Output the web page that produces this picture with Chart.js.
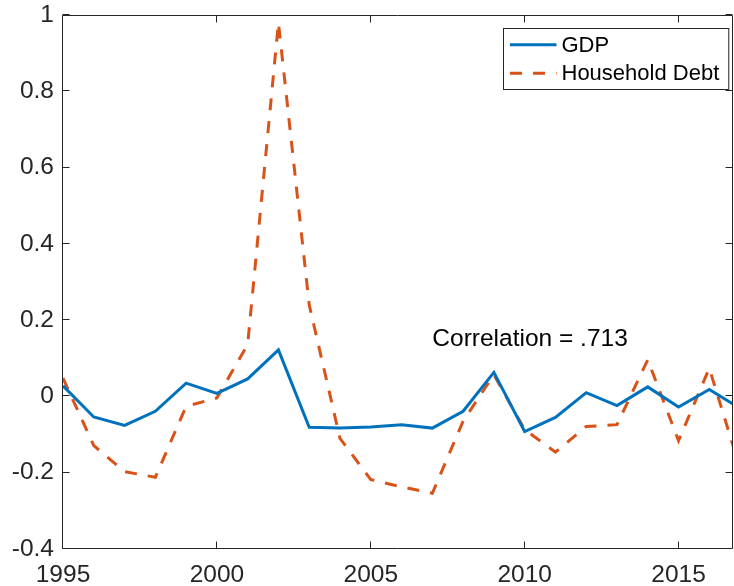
<!DOCTYPE html>
<html>
<head>
<meta charset="utf-8">
<script src="https://cdn.jsdelivr.net/npm/chart.js@4.4.0/dist/chart.umd.min.js"></script>
<style>
  html, body { margin: 0; padding: 0; background: #fff; }
  #wrap { width: 734px; height: 586px; }
</style>
</head>
<body>
<div id="wrap"><canvas id="chart" width="734" height="586"></canvas></div>
<script>
// values
const years = [1995, 1996, 1997, 1998, 1999, 2000, 2001, 2002, 2003, 2004, 2005, 2006,
               2007, 2008, 2009, 2010, 2011, 2012, 2013, 2014, 2015, 2016, 2017];
const gdp = [0.028, -0.054, -0.076, -0.039, 0.035, 0.008, 0.046, 0.122, -0.081, -0.083, -0.080, -0.074,
             -0.083, -0.039, 0.063, -0.092, -0.055, 0.010, -0.024, 0.025, -0.028, 0.018, -0.031];
const householdDebt = [0.048, -0.129, -0.197, -0.212, -0.026, -0.004, 0.136, 0.98, 0.24, -0.11, -0.218, -0.237,
                       -0.254, -0.065, 0.057, -0.087, -0.146, -0.079, -0.074, 0.096, -0.116, 0.074, -0.189];
const seriesNames = ['GDP', 'Household Debt'];
const xTicks = [1995, 2000, 2005, 2010, 2015];
const yTicks = [-0.4, -0.2, 0, 0.2, 0.4, 0.6, 0.8, 1];
const noteText = 'Correlation = .713';
const noteAt = [2007, 0.15];

const FONT = '"Liberation Sans", Arial, Helvetica, sans-serif';
const AXIS_COLOR = '#262626';
const toPoints = vals => vals.map((v, i) => ({ x: years[i], y: v }));

// MATLAB style box, inward ticks, text label and legend
const matlabAxes = {
    id: 'matlabAxes',
    afterDatasetsDraw(chart) {
        const ctx = chart.ctx;
        const a = chart.chartArea;
        const xs = chart.scales.x, ys = chart.scales.y;
        const L = Math.round(a.left) - 0.5, R = Math.round(a.right) - 0.5;
        const T = Math.round(a.top) + 0.5, B = Math.round(a.bottom) - 0.5;
        ctx.save();
        ctx.strokeStyle = AXIS_COLOR;
        ctx.lineWidth = 1;
        ctx.beginPath();
        ctx.rect(L, T, R - L, B - T);
        const tk = 7;
        xTicks.forEach(v => {
            const px = Math.round(xs.getPixelForValue(v)) - 0.5;
            ctx.moveTo(px, B); ctx.lineTo(px, B - tk);
            ctx.moveTo(px, T); ctx.lineTo(px, T + tk);
        });
        yTicks.forEach(v => {
            const py = Math.round(ys.getPixelForValue(v)) - 0.5;
            ctx.moveTo(L, py); ctx.lineTo(L + tk, py);
            ctx.moveTo(R, py); ctx.lineTo(R - tk, py);
        });
        ctx.stroke();

        // correlation note
        ctx.fillStyle = '#000';
        ctx.font = '24.5px ' + FONT;
        ctx.textAlign = 'left';
        ctx.textBaseline = 'middle';
        ctx.fillText(noteText, xs.getPixelForValue(noteAt[0]), ys.getPixelForValue(noteAt[1]));

        // legend
        ctx.font = '22px ' + FONT;
        const ds = chart.data.datasets;
        const textW = Math.max(...ds.map(d => ctx.measureText(d.label).width));
        const boxW = 58 + textW + 9.5;
        const boxR = a.right - 5;
        const boxL = Math.round(boxR - boxW) + 0.5;
        const boxT = Math.round(a.top + 13) + 0.5;
        const boxH = 61;
        ctx.fillStyle = '#fff';
        ctx.fillRect(boxL, boxT, boxW, boxH);
        ctx.strokeStyle = AXIS_COLOR;
        ctx.strokeRect(boxL, boxT, boxW, boxH);
        ds.forEach((d, i) => {
            const cy = boxT + 16.3 + i * 28.4;
            ctx.beginPath();
            ctx.strokeStyle = d.borderColor;
            ctx.lineWidth = d.borderWidth;
            ctx.setLineDash(d.borderDash || []);
            ctx.moveTo(boxL + 6.5, cy);
            ctx.lineTo(boxL + 53, cy);
            ctx.stroke();
            ctx.setLineDash([]);
            ctx.fillStyle = '#000';
            ctx.textBaseline = 'middle';
            ctx.fillText(d.label, boxL + 58, cy + 1);
        });
        ctx.restore();
    }
};

new Chart(document.getElementById('chart'), {
    type: 'line',
    data: {
        datasets: [{
            label: seriesNames[0],
            data: toPoints(gdp),
            borderColor: '#0072BD',
            borderWidth: 3,
            pointRadius: 0,
            tension: 0
        }, {
            label: seriesNames[1],
            data: toPoints(householdDebt),
            borderColor: '#D95319',
            borderWidth: 3,
            borderDash: [12, 11],
            pointRadius: 0,
            tension: 0
        }]
    },
    options: {
        responsive: false,
        animation: false,
        devicePixelRatio: 1,
        layout: { padding: { top: 15, right: 1, left: 0, bottom: 0 } },
        plugins: {
            legend: { display: false },
            tooltip: { enabled: false }
        },
        scales: {
            x: {
                type: 'linear',
                min: 1995,
                max: 2016.77,
                grid: { display: false, drawTicks: false },
                border: { display: false },
                afterBuildTicks: s => { s.ticks = xTicks.map(v => ({ value: v })); },
                afterFit: s => { s.height = 37; s.paddingLeft = 0; s.paddingRight = 0; },
                ticks: {
                    color: AXIS_COLOR,
                    font: { family: FONT, size: 24.5 },
                    padding: 12,
                    maxRotation: 0,
                    callback: v => String(v)
                }
            },
            y: {
                min: -0.4,
                max: 1,
                grid: { display: false, drawTicks: false },
                border: { display: false },
                afterBuildTicks: s => { s.ticks = yTicks.map(v => ({ value: v })); },
                afterFit: s => { s.width = 63; s.paddingTop = 0; s.paddingBottom = 0; },
                ticks: {
                    color: AXIS_COLOR,
                    font: { family: FONT, size: 24.5 },
                    padding: 9,
                    callback: v => String(+v.toFixed(1))
                }
            }
        }
    },
    plugins: [matlabAxes]
});
</script>
</body>
</html>
